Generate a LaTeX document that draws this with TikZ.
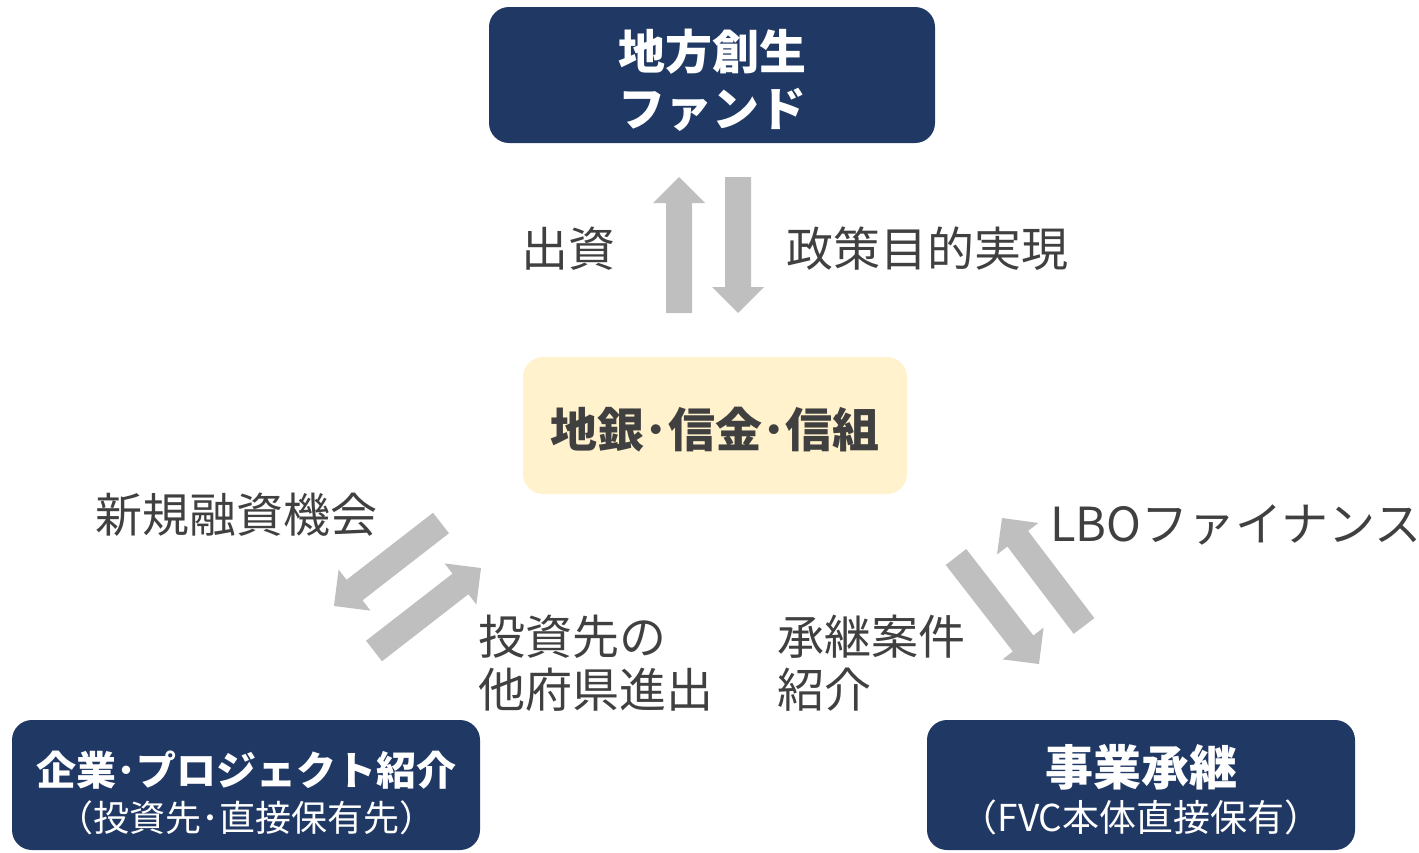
\documentclass[tikz,border=0pt]{standalone}
\usepackage{fontspec}
\setmainfont{Noto Sans CJK JP}
\usetikzlibrary{calc}
\definecolor{navy}{HTML}{203864}
\definecolor{paleyellow}{HTML}{FFF2CC}
\definecolor{arrowgray}{HTML}{BFBFBF}
\definecolor{txtgray}{HTML}{404040}
\newcommand\fatarrow[2]{%
  \coordinate (#1-h) at ($(#2)!26pt!(#1)$);
  \fill[arrowgray] ($(#1)!13pt!90:(#2)$) -- ($(#1-h)!13pt!90:(#2)$) -- ($(#1-h)!26pt!90:(#2)$) -- (#2)
    -- ($(#1-h)!26pt!-90:(#2)$) -- ($(#1-h)!13pt!-90:(#2)$) -- ($(#1)!13pt!-90:(#2)$) -- cycle;}
\tikzset{
  navybox/.style={fill=navy, rounded corners=20pt, text=white, align=center, inner sep=0pt},
  yellowbox/.style={fill=paleyellow, rounded corners=20pt, text=txtgray, align=center, inner sep=0pt},
  lbl/.style={text=txtgray, inner sep=0pt, font=\fontsize{47}{53}\selectfont},
}
\begin{document}
\begin{tikzpicture}[x=1pt,y=-1pt]
\useasboundingbox (0,0) rectangle (1419,852);
% boxes
\node[navybox, minimum width=446pt, minimum height=136pt, font=\fontsize{47}{54}\selectfont\bfseries,
  text height=102pt, text depth=0pt] (fund) at (712,75)
  {地方創生\\[3pt]ファンド};
\node[yellowbox, minimum width=384pt, minimum height=137pt, font=\fontsize{47}{54}\selectfont\bfseries,
  text height=44pt, text depth=0pt] (bank) at (715,425.5)
  {地銀･信金･信組};
\node[navybox, minimum width=468pt, minimum height=130pt, text height=92pt, text depth=0pt] (corp) at (246,785)
  {{\fontsize{40}{46}\selectfont\bfseries 企業･プロジェクト紹介}\\[10pt]{\fontsize{36}{46}\selectfont （投資先･直接保有先）}};
\node[navybox, minimum width=428pt, minimum height=130pt, text height=92pt, text depth=0pt] (succ) at (1141,785)
  {{\fontsize{48}{49}\selectfont\bfseries 事業承継}\\[8pt]{\fontsize{37}{49}\selectfont （FVC本体直接保有）}};
% arrow end points
\coordinate (a1s) at (679,313); \coordinate (a1e) at (679,177);
\coordinate (a2s) at (738,177); \coordinate (a2e) at (738,313);
\coordinate (a3s) at (441,523); \coordinate (a3e) at (334,606);
\coordinate (a4s) at (374,651); \coordinate (a4e) at (481,568);
\coordinate (a5s) at (956,557); \coordinate (a5e) at (1039,664);
\coordinate (a6s) at (1084,626); \coordinate (a6e) at (1002,518);
\fatarrow{a1s}{a1e}
\fatarrow{a2s}{a2e}
\fatarrow{a3s}{a3e}
\fatarrow{a4s}{a4e}
\fatarrow{a5s}{a5e}
\fatarrow{a6s}{a6e}
% labels
\node[lbl] (l1) at (568,249) {出資};
\node[lbl] (l2) at (927,249) {政策目的実現};
\node[lbl] (l3) at (236,515) {新規融資機会};
\node[lbl] (l4) at (1236,525) {LBOファイナンス};
\node[lbl, align=left, anchor=west] (l5) at (478,663.5) {投資先の\\他府県進出};
\node[lbl, align=left, anchor=west] (l6) at (777,663.5) {承継案件\\紹介};
\end{tikzpicture}
\end{document}
